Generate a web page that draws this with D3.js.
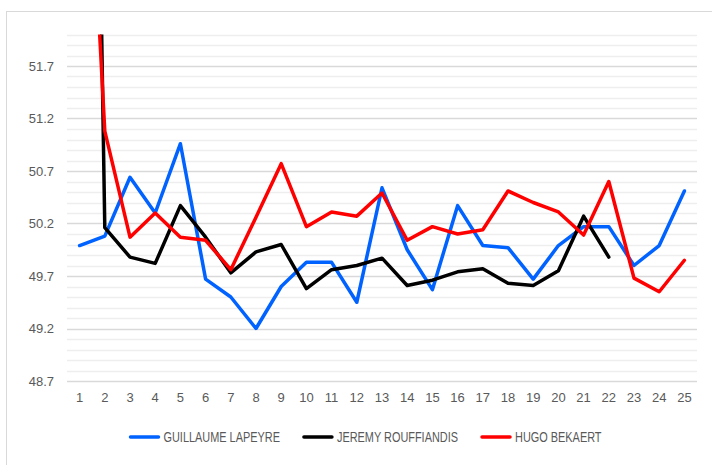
<!DOCTYPE html>
<html>
<head>
<meta charset="utf-8">
<script src="https://cdn.jsdelivr.net/npm/d3@7"></script>
<style>
  body { margin: 0; background: #fff; }
  svg { display: block; font-family: "Liberation Sans", Arial, sans-serif; }
  .axis text { fill: #595959; font-size: 13px; }
  .legend text { fill: #595959; font-size: 14px; }
</style>
</head>
<body>
<div id="container"></div>
<script>
// data
const rounds = ["1","2","3","4","5","6","7","8","9","10","11","12","13","14","15","16","17","18","19","20","21","22","23","24","25"];
const lapeyre = [49.99, 50.08, 50.64, 50.30, 50.96, 49.67, 49.50, 49.20, 49.60, 49.83, 49.83, 49.45, 50.54, 49.95, 49.57, 50.37, 49.99, 49.97, 49.67, 49.99, 50.17, 50.17, 49.80, 49.99, 50.51];
const rouffiandis = [65.0, 50.16, 49.88, 49.82, 50.37, 50.07, 49.73, 49.93, 50.00, 49.58, 49.76, 49.80, 49.87, 49.61, 49.66, 49.74, 49.77, 49.63, 49.61, 49.75, 50.27, 49.88, null, null, null];
const bekaert = [55.6, 51.08, 50.07, 50.30, 50.07, 50.04, 49.76, 50.26, 50.77, 50.17, 50.31, 50.27, 50.49, 50.04, 50.17, 50.10, 50.14, 50.51, 50.40, 50.31, 50.09, 50.60, 49.68, 49.55, 49.85];
const yTicks = [48.7, 49.2, 49.7, 50.2, 50.7, 51.2, 51.7];
const yMin = 48.7, yMax = 52.0;

const series = [
  { name: "GUILLAUME LAPEYRE", values: lapeyre, color: "#0062ff" },
  { name: "JEREMY ROUFFIANDIS", values: rouffiandis, color: "#000000" },
  { name: "HUGO BEKAERT", values: bekaert, color: "#ff0000" }
];

const W = 712, H = 465;
const plot = { left: 67, right: 697, top: 34.5, bottom: 381 };

const svg = d3.select("#container")
  .append("svg")
  .attr("width", W)
  .attr("height", H);

// chart frame
svg.append("rect")
  .attr("x", 6.5)
  .attr("y", 11.5)
  .attr("width", 720)
  .attr("height", 470)
  .attr("fill", "#fff")
  .attr("stroke", "#d9d9d9");

const x = d3.scaleBand()
  .domain(rounds)
  .range([plot.left, plot.right]);

const y = d3.scaleLinear()
  .domain([yMin, yMax])
  .range([plot.bottom, plot.top]);

// minor gridlines every 0.1
const minor = d3.range(0, Math.round((yMax - yMin) * 10) + 1).map(i => +(yMin + i * 0.1).toFixed(1));
svg.append("g")
  .selectAll("line")
  .data(minor.filter(v => !yTicks.includes(v)))
  .join("line")
  .attr("x1", plot.left)
  .attr("x2", plot.right)
  .attr("y1", d => Math.round(y(d)) + 0.5)
  .attr("y2", d => Math.round(y(d)) + 0.5)
  .attr("stroke", "#eeeeee")
  .attr("stroke-width", 1.5);

// major gridlines
svg.append("g")
  .selectAll("line")
  .data(yTicks)
  .join("line")
  .attr("x1", plot.left)
  .attr("x2", plot.right)
  .attr("y1", d => Math.round(y(d)) + 0.5)
  .attr("y2", d => Math.round(y(d)) + 0.5)
  .attr("stroke", "#d9d9d9")
  .attr("stroke-width", 1.5);

svg.append("g")
  .attr("class", "axis")
  .attr("transform", `translate(${plot.left - 13},0)`)
  .call(d3.axisLeft(y).tickValues(yTicks).tickFormat(d3.format(".1f")).tickSize(0).tickPadding(0))
  .call(g => g.select(".domain").remove());

svg.append("g")
  .attr("class", "axis")
  .attr("transform", `translate(0,${plot.bottom + 9})`)
  .call(d3.axisBottom(x).tickSize(0).tickPadding(3))
  .call(g => g.select(".domain").remove());

svg.append("clipPath")
  .attr("id", "plotclip")
  .append("rect")
  .attr("x", plot.left)
  .attr("y", plot.top)
  .attr("width", plot.right - plot.left)
  .attr("height", plot.bottom - plot.top);

const line = d3.line()
  .defined(d => d != null)
  .x((d, i) => x(rounds[i]) + x.bandwidth() / 2)
  .y(d => y(d));

svg.append("g")
  .attr("clip-path", "url(#plotclip)")
  .selectAll("path")
  .data(series)
  .join("path")
  .attr("fill", "none")
  .attr("stroke", d => d.color)
  .attr("stroke-width", 3.5)
  .attr("stroke-linejoin", "round")
  .attr("stroke-linecap", "round")
  .attr("d", d => line(d.values));

// legend (condensed text, like the original)
const squeeze = 0.78;
const legend = svg.append("g").attr("class", "legend");
const items = legend.selectAll("g")
  .data(series)
  .join("g");
items.append("line")
  .attr("x1", 0).attr("x2", 28)
  .attr("y1", 0).attr("y2", 0)
  .attr("stroke", d => d.color)
  .attr("stroke-width", 3.5)
  .attr("stroke-linecap", "round");
items.append("text")
  .attr("transform", `translate(33,5) scale(${squeeze},1)`)
  .text(d => d.name);

let widths = [];
items.each(function() { widths.push(this.querySelector("text").getComputedTextLength() * squeeze + 33); });
const gap = 24;
const total = d3.sum(widths) + gap * (widths.length - 1);
let cx = 366 - total / 2;
items.attr("transform", (d, i) => {
  const t = `translate(${cx},437)`;
  cx += widths[i] + gap;
  return t;
});
</script>
</body>
</html>
